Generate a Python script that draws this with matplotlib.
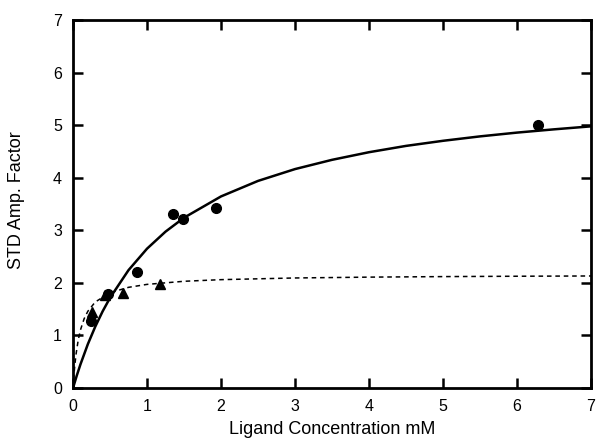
import numpy as np
import matplotlib
matplotlib.use("Agg")
import matplotlib.pyplot as plt

plt.rcParams['font.family'] = ['Liberation Sans', 'DejaVu Sans']

# measured points (circles)
circ_x = [0.24, 0.47, 0.86, 1.35, 1.48, 1.93, 6.28]
circ_y = [1.27, 1.78, 2.21, 3.31, 3.21, 3.42, 5.00]
# measured points (triangles)
tri_x = [0.25, 0.43, 0.67, 1.18]
tri_y = [1.45, 1.77, 1.81, 1.97]

# solid fit curve
fit1_x = [0, 0.05, 0.1, 0.2, 0.3, 0.4, 0.5, 0.75, 1, 1.25, 1.5, 2, 2.5, 3, 3.5, 4, 4.5, 5, 5.5, 6, 6.5, 7]
fit1_y = [0, 0.233, 0.448, 0.833, 1.166, 1.458, 1.715, 2.242, 2.650, 2.974, 3.239,
          3.644, 3.939, 4.164, 4.340, 4.485, 4.605, 4.702, 4.786, 4.858, 4.920, 4.977]
# dashed fit curve
fit2_x = [0, 0.01, 0.02, 0.04, 0.07, 0.1, 0.15, 0.2, 0.3, 0.5, 0.75, 1, 1.5, 2, 3, 4, 5, 6, 7]
fit2_y = [0, 0.204, 0.372, 0.635, 0.911, 1.102, 1.317, 1.459, 1.636, 1.812, 1.915,
          1.971, 2.030, 2.061, 2.093, 2.109, 2.119, 2.126, 2.131]

fig = plt.figure(figsize=(6, 4.48), dpi=100)
ax = fig.add_axes([0.1217, 0.1339, 0.8633, 0.8215])

ax.plot(fit1_x, fit1_y, '-', color='black', lw=1.8)
ax.plot(fit2_x, fit2_y, color='black', lw=1.1, dashes=(3, 2.5))
ax.plot(circ_x, circ_y, 'o', color='black', ms=7)
ax.plot(tri_x, tri_y, '^', color='black', ms=6.5)

ax.set_xlim(0, 7)
ax.set_ylim(0, 7)
ax.set_xticks(range(8))
ax.set_yticks(range(8))
ax.tick_params(direction='in', length=7, width=1.8, top=True, right=True,
               labelsize=11.5, pad=8)
for s in ax.spines.values():
    s.set_linewidth(2)

ax.set_xlabel('Ligand Concentration mM', fontsize=13, labelpad=5)
ax.set_ylabel('STD Amp. Factor', fontsize=13)
ax.yaxis.set_label_coords(-0.093, 0.51)

fig.savefig('out.png', dpi=100)
